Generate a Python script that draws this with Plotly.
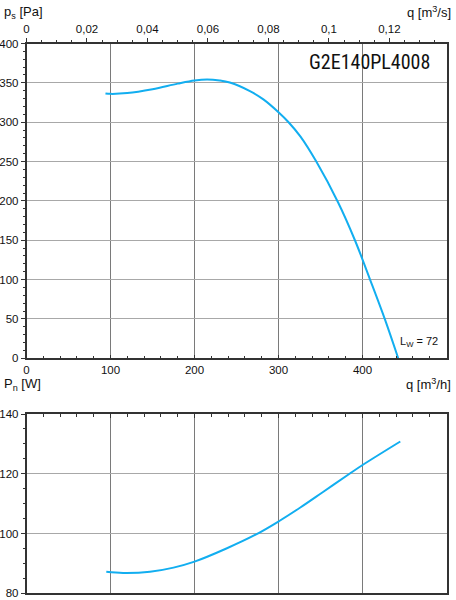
import plotly.graph_objects as go

# fan curve G2E140PL4008
q_pressure = [94, 100, 120, 150, 180, 200, 215, 230, 242, 266, 282, 300, 312, 326, 345, 371,
              391, 409, 426.5, 442.5]
p_static = [336.5, 336, 337, 342, 349, 353, 354.3, 353, 350.4, 339.5, 329, 312.7, 300, 282, 250, 198,
            150, 100, 50, 0]

q_power = [95, 115, 147, 175, 200, 238, 274, 301, 326, 353, 385, 401, 445]
p_input = [87.2, 86.8, 87.2, 88.6, 90.6, 95, 99.8, 104.2, 108.7, 113.9, 120.1, 123.1, 130.8]

fan_name = 'G2E140PL4008'
sound_label = 'L<sub>W</sub> = 72'

W, H = 456, 600
BLUE = '#12aef0'
AXIS = '#333333'
GRID_V = '#7a7a7a'
GRID_H = '#a8a8a8'
FONT = 'Liberation Sans, Arial, sans-serif'


def px_x(v):
    return v / W


def px_y(v):
    return 1 - v / H


fig = go.Figure()

fig.add_trace(go.Scatter(x=q_pressure, y=p_static, mode='lines',
                         line=dict(color=BLUE, width=2, shape='spline', smoothing=1.0),
                         xaxis='x', yaxis='y', showlegend=False, hoverinfo='skip'))
fig.add_trace(go.Scatter(x=q_power, y=p_input, mode='lines',
                         line=dict(color=BLUE, width=2, shape='spline', smoothing=1.0),
                         xaxis='x2', yaxis='y2', showlegend=False, hoverinfo='skip'))

x_dom = [px_x(26.5), px_x(446.5)]
tick_font = dict(family=FONT, size=11.5, color='#111111')

fig.update_layout(
    width=W, height=H, autosize=False,
    margin=dict(l=0, r=0, t=0, b=0, pad=0),
    paper_bgcolor='white', plot_bgcolor='white',
    separators=', ',
    font=dict(family=FONT, color='#111111'),
    xaxis=dict(domain=x_dom, anchor='y', range=[0, 500], dtick=100, tick0=0,
               showgrid=True, gridcolor=GRID_V, gridwidth=1, zeroline=False,
               showline=True, linecolor=AXIS, linewidth=1.5,
               ticks='inside', ticklen=4, tickcolor=AXIS,
               minor=dict(dtick=20, ticks='inside', ticklen=3, tickcolor=AXIS, showgrid=False),
               tickfont=tick_font, fixedrange=True, automargin=False),
    xaxis3=dict(overlaying='x', anchor='y', side='top', range=[0, 500 / 3600], dtick=0.02, tick0=0,
                showgrid=False, zeroline=False,
                showline=True, linecolor=AXIS, linewidth=1.5,
                ticks='outside', ticklen=4, tickcolor=AXIS,
                minor=dict(dtick=0.005, ticks='outside', ticklen=2, tickcolor=AXIS),
                tickfont=tick_font, fixedrange=True, automargin=False),
    yaxis=dict(domain=[px_y(358.3), px_y(43.5)], anchor='x', range=[0, 400], dtick=50, tick0=0,
               showgrid=True, gridcolor=GRID_H, gridwidth=1, zeroline=False,
               showline=True, linecolor=AXIS, linewidth=1.5, mirror=True,
               ticks='outside', ticklen=4, tickcolor=AXIS,
               minor=dict(dtick=10, ticks='outside', ticklen=2, tickcolor=AXIS),
               tickfont=tick_font, fixedrange=True, automargin=False),
    xaxis2=dict(domain=x_dom, anchor='y2', side='top', range=[0, 500], dtick=100, tick0=0,
                showgrid=True, gridcolor=GRID_V, gridwidth=1, zeroline=False,
                showline=True, linecolor=AXIS, linewidth=1.5, mirror=True,
                showticklabels=False, ticks='inside', ticklen=4, tickcolor=AXIS,
                minor=dict(dtick=20, ticks='inside', ticklen=3, tickcolor=AXIS, showgrid=False),
                fixedrange=True, automargin=False),
    yaxis2=dict(domain=[px_y(593.3), px_y(414)], anchor='x2', range=[80, 140], dtick=20, tick0=80,
                showgrid=True, gridcolor=GRID_H, gridwidth=1, zeroline=False,
                showline=True, linecolor=AXIS, linewidth=1.5, mirror=True,
                ticks='outside', ticklen=4, tickcolor=AXIS,
                minor=dict(dtick=5, ticks='outside', ticklen=2, tickcolor=AXIS),
                tickfont=tick_font, fixedrange=True, automargin=False),
)

# a hidden trace so the m3/s axis is drawn
fig.add_trace(go.Scatter(x=[0], y=[0], mode='markers', marker=dict(opacity=0), xaxis='x3', yaxis='y',
                         showlegend=False, hoverinfo='skip'))

ann = [
    dict(text='p<sub>s</sub> [Pa]', x=px_x(2), y=px_y(2), xanchor='left', yanchor='top', size=13),
    dict(text='q [m<sup>3</sup>/s]', x=px_x(453), y=px_y(2), xanchor='right', yanchor='top', size=13),
    dict(text='P<sub>n</sub> [W]', x=px_x(2), y=px_y(374), xanchor='left', yanchor='top', size=13),
    dict(text='q [m<sup>3</sup>/h]', x=px_x(453), y=px_y(374), xanchor='right', yanchor='top', size=13),
    dict(text=sound_label, x=px_x(440), y=px_y(342), xanchor='right', yanchor='middle', size=11),
]
for a in ann:
    fig.add_annotation(text=a['text'], xref='paper', yref='paper', x=a['x'], y=a['y'],
                       xanchor=a['xanchor'], yanchor=a['yanchor'], showarrow=False,
                       font=dict(family=FONT, size=a['size'], color='#111111'))

fig.add_annotation(text=fan_name, xref='paper', yref='paper', x=px_x(432), y=px_y(62),
                   xanchor='right', yanchor='middle', showarrow=False,
                   font=dict(family='Liberation Sans Narrow, Roboto Condensed, Liberation Sans', size=20,
                             color='#111111'))

fig.write_html('out.html', config=dict(displayModeBar=False),
               post_script="document.body.style.margin='0';document.body.style.overflow='hidden';")
